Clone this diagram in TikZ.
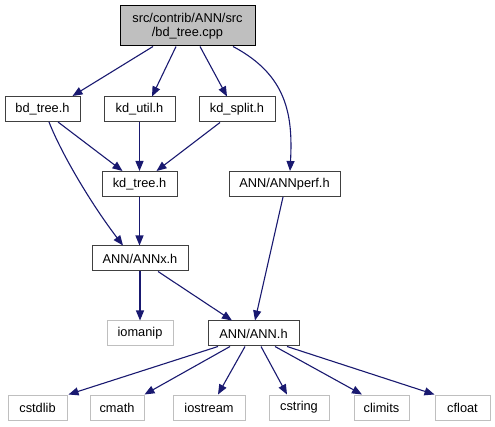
\documentclass[tikz,border=0pt]{standalone}
\usepackage{fontspec}
\setmainfont{Liberation Sans}
\usetikzlibrary{arrows.meta}
\definecolor{edgecol}{HTML}{191970}
\definecolor{grayline}{HTML}{BFBFBF}
\definecolor{boxline}{HTML}{404040}
\tikzset{
  hbox/.style={draw=boxline, line width=1pt, fill=white, inner sep=0pt, minimum height=25pt, font=\fontsize{12.8}{15}\selectfont},
  sysbox/.style={draw=grayline, line width=1pt, fill=white, inner sep=0pt, minimum height=25pt, font=\fontsize{12.8}{15}\selectfont},
  topbox/.style={draw=black, line width=1pt, fill=grayline, inner sep=0pt, minimum height=40pt, minimum width=135pt, align=center, font=\fontsize{12.8}{14.5}\selectfont},
  dep/.style={draw=edgecol, line width=1.1pt, -{Triangle[length=10pt,width=8pt]}}
}
\begin{document}
\begin{tikzpicture}[x=1pt,y=1pt]
\useasboundingbox (0,0) rectangle (495,-427);
\node[topbox] (top) at (187.5,-26) {src/contrib/ANN/src\\/bd\_tree.cpp};
\node[hbox, minimum width=75pt] (bdtree) at (42.5,-109) {bd\_tree.h};
\node[hbox, minimum width=71pt] (kdutil) at (139.5,-109.5) {kd\_util.h};
\node[hbox, minimum width=76pt] (kdsplit) at (237,-109.5) {kd\_split.h};
\node[hbox, minimum width=75pt] (kdtree) at (139.5,-184) {kd\_tree.h};
\node[hbox, minimum width=111pt] (annperf) at (284.5,-184) {ANN/ANNperf.h};
\node[hbox, minimum width=96pt] (annx) at (140,-258.5) {ANN/ANNx.h};
\node[sysbox, minimum width=66pt] (iomanip) at (140,-333.5) {iomanip};
\node[hbox, minimum width=91pt] (ann) at (253.5,-333.5) {ANN/ANN.h};
\node[sysbox, minimum width=59pt] (cstdlib) at (37.5,-407.5) {cstdlib};
\node[sysbox, minimum width=54pt] (cmath) at (117,-407.5) {cmath};
\node[sysbox, minimum width=72pt] (iostream) at (209,-407.5) {iostream};
\node[sysbox, minimum width=60pt] (cstring) at (299,-407.5) {cstring};
\node[sysbox, minimum width=55pt] (climits) at (381.5,-407.5) {climits};
\node[sysbox, minimum width=55pt] (cfloat) at (462.5,-407.5) {cfloat};

\draw[dep] ([xshift=-34.5pt]top.south) -- ([xshift=30pt]bdtree.north);
\draw[dep] ([xshift=-11.5pt]top.south) -- ([xshift=12.5pt]kdutil.north);
\draw[dep] ([xshift=12.5pt]top.south) -- ([xshift=-10pt]kdsplit.north);
\draw[dep] ([xshift=45.5pt]top.south) .. controls (287,-75) and (293,-115) .. ([xshift=5.5pt]annperf.north);
\draw[dep] ([xshift=15.5pt]bdtree.south) -- ([xshift=-17pt]kdtree.north);
\draw[dep] ([xshift=6.5pt]bdtree.south) .. controls (62,-155) and (92,-205) .. ([xshift=-17pt]annx.north);
\draw[dep] (kdutil.south) -- (kdtree.north);
\draw[dep] ([xshift=-17pt]kdsplit.south) -- ([xshift=17pt]kdtree.north);
\draw[dep] (kdtree.south) -- ([xshift=-0.5pt]annx.north);
\draw[dep] ([xshift=-1.5pt]annperf.south) -- ([xshift=1.5pt]ann.north);
\draw[dep] (annx.south) -- (iomanip.north);
\draw[dep] ([xshift=18pt]annx.south) -- ([xshift=-21.5pt]ann.north);
\draw[dep] ([xshift=-35.5pt]ann.south) -- ([xshift=1pt]cstdlib.north east);
\draw[dep] ([xshift=-23.5pt]ann.south) -- (cmath.north east);
\draw[dep] ([xshift=-8.5pt]ann.south) -- ([xshift=9pt]iostream.north);
\draw[dep] ([xshift=7.5pt]ann.south) -- ([xshift=-12pt]cstring.north);
\draw[dep] ([xshift=21.5pt]ann.south) -- ([xshift=-19.5pt]climits.north);
\draw[dep] ([xshift=33.5pt]ann.south) -- (cfloat.north west);
\end{tikzpicture}
\end{document}
